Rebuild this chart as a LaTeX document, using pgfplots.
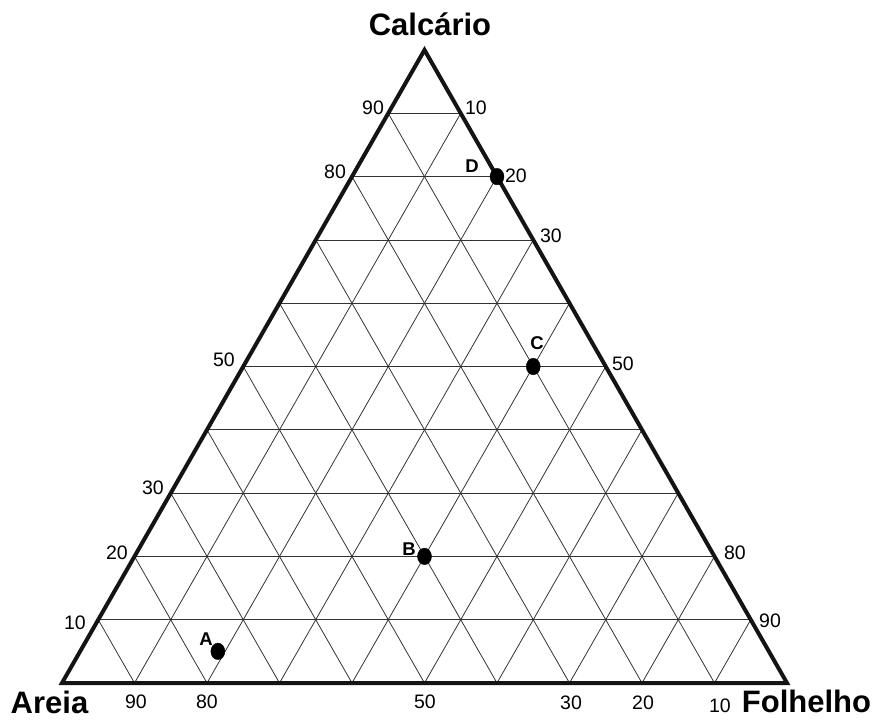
\documentclass[border=0pt]{standalone}
\usepackage{fontspec}
\setmainfont{Liberation Sans}
\usepackage{pgfplots}
\usepackage{pgfplotstable}
\pgfplotsset{compat=1.18}

% composition of each sample (percent)
\pgfplotstableread{
ponto areia folhelho calcario
A 76 19 5
B 40 40 20
C 10 40 50
D 0 20 80
}\amostras

% place a label by its position on the page (x to the right, y downwards)
\newcommand{\rotulo}[4][]{%
  \node[inner sep=0pt,#1] at (axis cs:{(#2-62)/7.25},{(683-#3)/6.33}) {#4};}

\begin{document}
\begin{tikzpicture}[
  grade/.style={line width=0.8bp, color=black!80},
  num/.style={font=\fontsize{19.5bp}{21bp}\selectfont},
  letra/.style={font=\fontsize{18.5bp}{20bp}\selectfont\bfseries},
  titulo/.style={font=\fontsize{31bp}{34bp}\selectfont\bfseries, anchor=base},
]
\begin{axis}[
  scale only axis,
  width=725bp, height=633bp,
  xmin=0, xmax=100, ymin=0, ymax=100,
  axis lines=none,
  clip=false,
]
% grid lines every 10 percent
\pgfplotsinvokeforeach{10,20,...,90}{
  \draw[grade] (axis cs:{#1/2},#1) -- (axis cs:{100-#1/2},#1);
  \draw[grade] (axis cs:#1,0) -- (axis cs:{#1+(100-#1)/2},{100-#1});
  \draw[grade] (axis cs:{100-#1},0) -- (axis cs:{(100-#1)/2},{100-#1});
}
% outline of the diagram
\draw[line width=4bp, line join=miter, color=black!92]
  (axis cs:0,0) -- (axis cs:100,0) -- (axis cs:50,100) -- cycle;

% samples
\addplot[only marks, mark=*, mark size=7bp,
  mark options={yscale=1.18, fill=black, draw=black}]
  table[x expr=\thisrow{folhelho}+0.5*\thisrow{calcario}, y=calcario]{\amostras};

\rotulo[letra]{206}{639}{A}
\rotulo[letra]{409}{549}{B}
\rotulo[letra]{537}{343}{C}
\rotulo[letra]{472}{166}{D}

% Areia scale (bottom)
\rotulo[num]{136}{702}{90}
\rotulo[num]{207}{702}{80}
\rotulo[num]{425}{702}{50}
\rotulo[num]{571}{703}{30}
\rotulo[num]{643}{703}{20}
\rotulo[num]{720}{706}{10}
% Calcario scale (left)
\rotulo[num]{373}{108}{90}
\rotulo[num]{335}{172}{80}
\rotulo[num]{224}{360}{50}
\rotulo[num]{153}{488}{30}
\rotulo[num]{117}{553}{20}
\rotulo[num]{75}{623}{10}
% Folhelho scale (right)
\rotulo[num]{476}{108}{10}
\rotulo[num]{516}{176}{20}
\rotulo[num]{551}{236}{30}
\rotulo[num]{623}{364}{50}
\rotulo[num]{735}{553}{80}
\rotulo[num]{770}{621}{90}

% vertex names
\node[titulo] at (axis cs:{(430-62)/7.25},{(683-35)/6.33}) {Calcário};
\node[titulo] at (axis cs:{(49.5-62)/7.25},{(683-713)/6.33}) {Areia};
\node[titulo] at (axis cs:{(806.5-62)/7.25},{(683-712)/6.33}) {Folhelho};

\coordinate (canto1) at (axis cs:{-62/7.25},{683/6.33});
\coordinate (canto2) at (axis cs:{(874-62)/7.25},{(683-720)/6.33});
\end{axis}
\pgfresetboundingbox
\useasboundingbox (canto1) rectangle (canto2);
\end{tikzpicture}
\end{document}
